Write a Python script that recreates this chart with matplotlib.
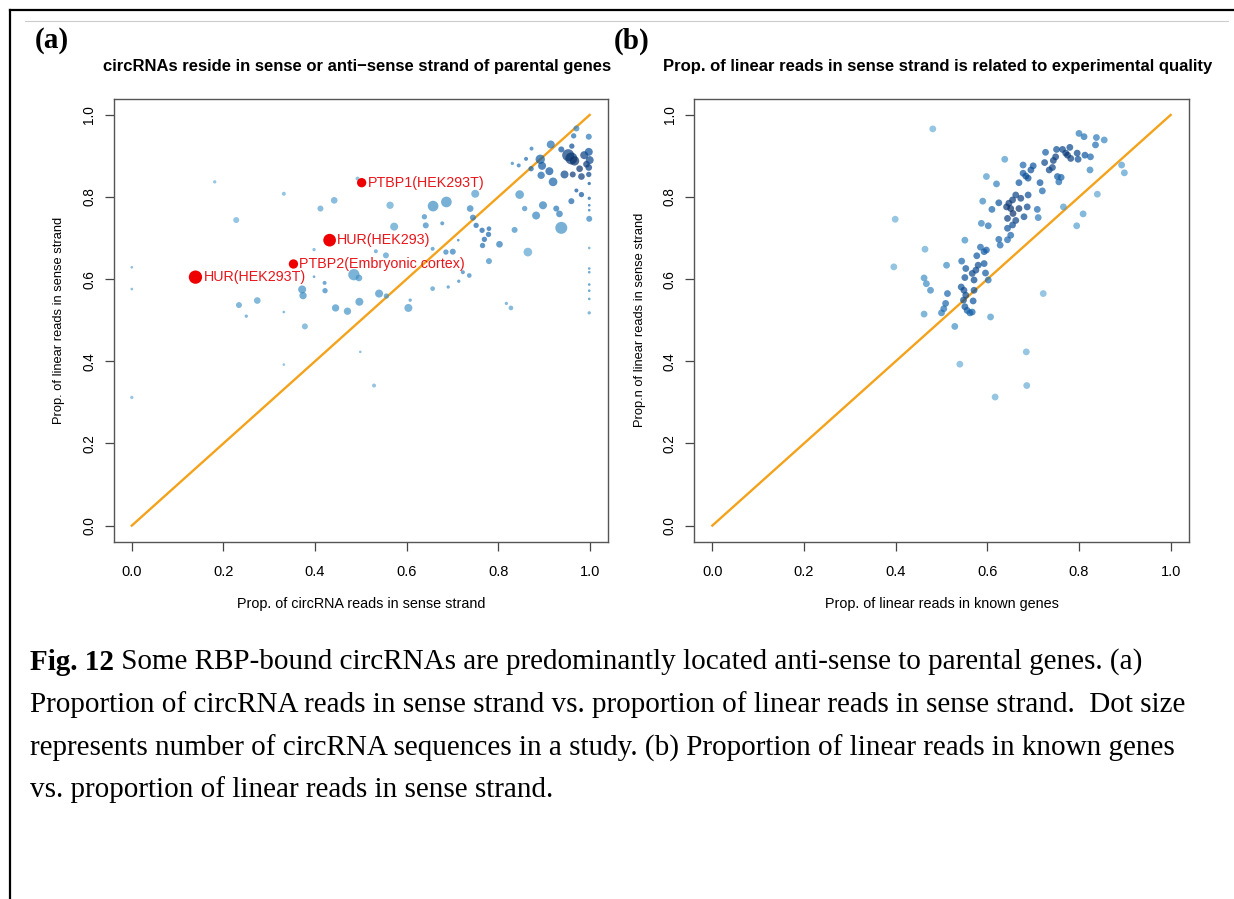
import numpy as np
import matplotlib.pyplot as plt
from matplotlib.colors import LinearSegmentedColormap
from matplotlib.lines import Line2D
from matplotlib.text import Annotation

# ---- panel (a): circRNA sense prop vs linear sense prop, dot size ~ number of circRNA seqs
a_x = [0.0, 0.0, 0.0, 0.181, 0.228, 0.234, 0.274, 0.250, 0.332, 0.332, 0.332,
       0.372, 0.374, 0.378, 0.398, 0.398, 0.412, 0.442, 0.421, 0.422, 0.445,
       0.471, 0.485, 0.496, 0.497, 0.499, 0.493, 0.529, 0.533, 0.540, 0.555,
       0.556, 0.564, 0.573, 0.604, 0.608, 0.639, 0.642, 0.658, 0.687, 0.657,
       0.657, 0.678, 0.686, 0.701, 0.691, 0.713, 0.714, 0.723, 0.737, 0.739,
       0.750, 0.745, 0.752, 0.765, 0.770, 0.779, 0.780, 0.766, 0.780, 0.803,
       0.818, 0.828, 0.836, 0.831, 0.845, 0.847, 0.858, 0.865, 0.861, 0.873,
       0.872, 0.883, 0.892, 0.896, 0.894, 0.898, 0.915, 0.912, 0.920, 0.927,
       0.934, 0.938, 0.938, 0.945, 0.953, 0.960, 0.967, 0.961, 0.965, 0.971,
       0.960, 0.963, 0.971, 0.982, 0.978, 0.982, 0.988, 0.993, 0.998, 0.998,
       1.0, 0.998, 0.998, 0.999, 0.999, 0.999, 0.999, 0.999, 0.999, 0.999,
       0.999, 0.999, 0.999, 0.999, 0.999]
a_y = [0.629, 0.576, 0.312, 0.837, 0.744, 0.537, 0.548, 0.510, 0.808, 0.520, 0.392,
       0.575, 0.560, 0.485, 0.672, 0.606, 0.772, 0.792, 0.591, 0.572, 0.530,
       0.522, 0.611, 0.603, 0.545, 0.423, 0.845, 0.341, 0.668, 0.565, 0.658,
       0.559, 0.780, 0.728, 0.530, 0.549, 0.752, 0.731, 0.778, 0.788, 0.674,
       0.577, 0.736, 0.666, 0.667, 0.581, 0.695, 0.595, 0.617, 0.609, 0.772,
       0.808, 0.750, 0.731, 0.719, 0.697, 0.709, 0.723, 0.682, 0.644, 0.685,
       0.541, 0.530, 0.720, 0.882, 0.877, 0.806, 0.772, 0.666, 0.893, 0.918,
       0.869, 0.755, 0.892, 0.876, 0.853, 0.780, 0.928, 0.863, 0.837, 0.772,
       0.759, 0.725, 0.916, 0.855, 0.902, 0.894, 0.888, 0.924, 0.949, 0.967,
       0.790, 0.855, 0.816, 0.806, 0.869, 0.850, 0.902, 0.880, 0.947, 0.910,
       0.890, 0.872, 0.855, 0.833, 0.797, 0.780, 0.768, 0.747, 0.676, 0.626,
       0.617, 0.587, 0.572, 0.552, 0.518]
a_n = [4, 4, 5, 5, 9, 9, 10, 5, 6, 4, 4,
       12, 11, 9, 5, 4, 9, 10, 6, 8, 11,
       11, 17, 10, 12, 4, 6, 6, 6, 12, 9,
       8, 11, 12, 12, 5, 8, 9, 16, 16, 6,
       7, 6, 8, 9, 5, 4, 5, 6, 7, 10,
       12, 9, 8, 8, 8, 8, 7, 8, 9, 10,
       5, 7, 9, 5, 6, 13, 8, 13, 6, 6,
       8, 12, 14, 12, 11, 12, 12, 12, 13, 9,
       10, 18, 9, 12, 18, 18, 14, 8, 8, 9,
       9, 9, 6, 8, 10, 10, 12, 10, 9, 12,
       12, 10, 8, 5, 5, 4, 4, 9, 4, 4,
       4, 4, 4, 4, 5]

hl_names = ["HUR(HEK293T)", "HUR(HEK293)", "PTBP2(Embryonic cortex)", "PTBP1(HEK293T)"]
hl_x = [0.139, 0.432, 0.353, 0.502]
hl_y = [0.605, 0.695, 0.637, 0.835]
hl_n = [20, 19, 14, 14]

# ---- panel (b): linear reads in known genes vs linear reads in sense strand
b_x = [0.481, 0.399, 0.396, 0.464, 0.462, 0.467, 0.476, 0.462, 0.500, 0.505,
       0.509, 0.513, 0.511, 0.529, 0.540, 0.607, 0.617, 0.685, 0.686, 0.722,
       0.551, 0.544, 0.553, 0.551, 0.543, 0.549, 0.553, 0.548, 0.551, 0.556,
       0.562, 0.567, 0.569, 0.571, 0.567, 0.571, 0.575, 0.577, 0.580, 0.585,
       0.593, 0.596, 0.598, 0.593, 0.602, 0.587, 0.602, 0.590, 0.598, 0.620,
       0.610, 0.625, 0.628, 0.625, 0.644, 0.644, 0.651, 0.655, 0.638, 0.644,
       0.642, 0.647, 0.655, 0.651, 0.656, 0.662, 0.669, 0.673, 0.680, 0.662,
       0.687, 0.689, 0.709, 0.711, 0.720, 0.715, 0.669, 0.678, 0.684, 0.689,
       0.695, 0.700, 0.678, 0.725, 0.727, 0.735, 0.742, 0.744, 0.749, 0.753,
       0.756, 0.761, 0.751, 0.764, 0.771, 0.775, 0.780, 0.782, 0.796, 0.798,
       0.813, 0.825, 0.800, 0.811, 0.838, 0.855, 0.836, 0.824, 0.766, 0.809,
       0.795, 0.840, 0.893, 0.899]
b_y = [0.966, 0.746, 0.630, 0.673, 0.603, 0.589, 0.573, 0.515, 0.518, 0.528,
       0.541, 0.565, 0.634, 0.485, 0.393, 0.508, 0.313, 0.423, 0.341, 0.565,
       0.695, 0.644, 0.626, 0.604, 0.581, 0.573, 0.561, 0.549, 0.533, 0.524,
       0.518, 0.520, 0.547, 0.573, 0.614, 0.598, 0.622, 0.657, 0.634, 0.678,
       0.638, 0.615, 0.671, 0.667, 0.598, 0.736, 0.730, 0.790, 0.850, 0.832,
       0.770, 0.786, 0.683, 0.697, 0.696, 0.724, 0.707, 0.732, 0.892, 0.748,
       0.776, 0.785, 0.793, 0.772, 0.760, 0.743, 0.772, 0.797, 0.752, 0.805,
       0.776, 0.805, 0.770, 0.750, 0.815, 0.835, 0.835, 0.858, 0.851, 0.846,
       0.866, 0.876, 0.878, 0.884, 0.909, 0.866, 0.872, 0.889, 0.898, 0.850,
       0.837, 0.848, 0.916, 0.916, 0.907, 0.902, 0.921, 0.894, 0.907, 0.892,
       0.902, 0.898, 0.955, 0.947, 0.945, 0.939, 0.927, 0.866, 0.776, 0.759,
       0.730, 0.807, 0.878, 0.859]

ticks = [0.0, 0.2, 0.4, 0.6, 0.8, 1.0]
tick_labels = ["0.0", "0.2", "0.4", "0.6", "0.8", "1.0"]

caption = [
    "Some RBP-bound circRNAs are predominantly located anti-sense to parental genes. (a)",
    "Proportion of circRNA reads in sense strand vs. proportion of linear reads in sense strand.  Dot size",
    "represents number of circRNA sequences in a study. (b) Proportion of linear reads in known genes",
    "vs. proportion of linear reads in sense strand.",
]

# densCols-like colouring (blues9 without the 3 lightest)
blues = LinearSegmentedColormap.from_list(
    "dens", ["#6BAED6", "#4292C6", "#2171B5", "#08519C", "#08306B"])


def dens_colors(x, y, bw=0.035):
    x = np.asarray(x)
    y = np.asarray(y)
    d = np.exp(-((x[:, None] - x[None, :])**2 + (y[:, None] - y[None, :])**2) / (2*bw**2)).sum(1)
    d = (d - d.min()) / (d.max() - d.min())
    return blues(d**0.8)


plt.rcParams['font.family'] = ['Liberation Sans', 'DejaVu Sans']
fig = plt.figure(figsize=(12.34, 8.99), dpi=100)
W, H = 1234, 899


def setup(ax, title, xlabel, ylabel):
    ax.set_xlim(-0.04, 1.04)
    ax.set_ylim(-0.04, 1.04)
    ax.set_xticks(ticks)
    ax.set_xticklabels(tick_labels)
    ax.set_yticks(ticks)
    ax.set_yticklabels(tick_labels, rotation=90, va='center')
    ax.tick_params(direction='out', length=6.5, width=0.9, color='#444444')
    ax.tick_params(axis='x', labelsize=10.5, pad=10)
    ax.tick_params(axis='y', labelsize=9.8, pad=6)
    for s in ax.spines.values():
        s.set_color('#555555')
        s.set_linewidth(1.0)
    ax.set_xlabel(xlabel, fontsize=10.4, labelpad=13)
    ax.set_ylabel(ylabel, fontsize=9.3, labelpad=12)
    ax.plot([0, 1], [0, 1], color='#f5a21b', lw=1.7, zorder=1)
    bb = ax.get_position()
    fig.text((bb.x0 + bb.x1) / 2 - 4/W, 1 - 67/H, title, ha='center', va='center',
             fontsize=12, fontweight='bold')


ax1 = fig.add_axes([113.5/W, 1 - 542/H, 494.5/W, 443.5/H])
setup(ax1, "circRNAs reside in sense or anti\u2212sense strand of parental genes",
      "Prop. of circRNA reads in sense strand", "Prop. of linear reads in sense strand")
sz = (0.48*np.array(a_n))**2
ax1.scatter(a_x, a_y, s=sz, c=dens_colors(a_x, a_y), alpha=0.7, linewidths=0, zorder=2)
ax1.scatter(hl_x, hl_y, s=(0.48*np.array(hl_n))**2, c='#ee0000', linewidths=0, zorder=3)
for name, x, y, n in zip(hl_names, hl_x, hl_y, hl_n):
    ax1.annotate(name, (x, y), xytext=(0.24*n + 1, 0), textcoords='offset points',
                 va='center', ha='left', color='#e8161b', fontsize=10.3, zorder=4)

ax2 = fig.add_axes([694/W, 1 - 542/H, 495/W, 443.5/H])
setup(ax2, "Prop. of linear reads in sense strand is related to experimental quality",
      "Prop. of linear reads in known genes", "Prop.n of linear reads in sense strand")
ax2.scatter(b_x, b_y, s=24, c=dens_colors(b_x, b_y, 0.03), alpha=0.7, linewidths=0, zorder=2)

# panel letters
fig.text(35/W, 1 - 41/H, "(a)", family='Liberation Serif', fontweight='bold',
         fontsize=21, va='center')
fig.text(614/W, 1 - 41/H, "(b)", family='Liberation Serif', fontweight='bold',
         fontsize=21, va='center')

# frame lines
fig.add_artist(Line2D([10/W, 1], [1 - 10/H, 1 - 10/H], color='black', lw=1.6))
fig.add_artist(Line2D([10/W, 10/W], [0, 1 - 10/H], color='black', lw=1.6))
fig.add_artist(Line2D([25/W, 1228/W], [1 - 21/H, 1 - 21/H], color='#cccccc', lw=0.8))

# caption
cap_y = [662, 705, 748, 790]
cap_size = 21
bold = fig.text(30/W, 1 - cap_y[0]/H, "Fig. 12", family='Liberation Serif',
                fontweight='bold', fontsize=cap_size, va='center')
fig.add_artist(Annotation(" " + caption[0], xy=(1, 0.5), xycoords=bold, va='center',
                          family='Liberation Serif', fontsize=cap_size))
for line, y in zip(caption[1:], cap_y[1:]):
    fig.text(30/W, 1 - y/H, line, family='Liberation Serif', fontsize=cap_size, va='center')

fig.savefig("out.png", dpi=100)
